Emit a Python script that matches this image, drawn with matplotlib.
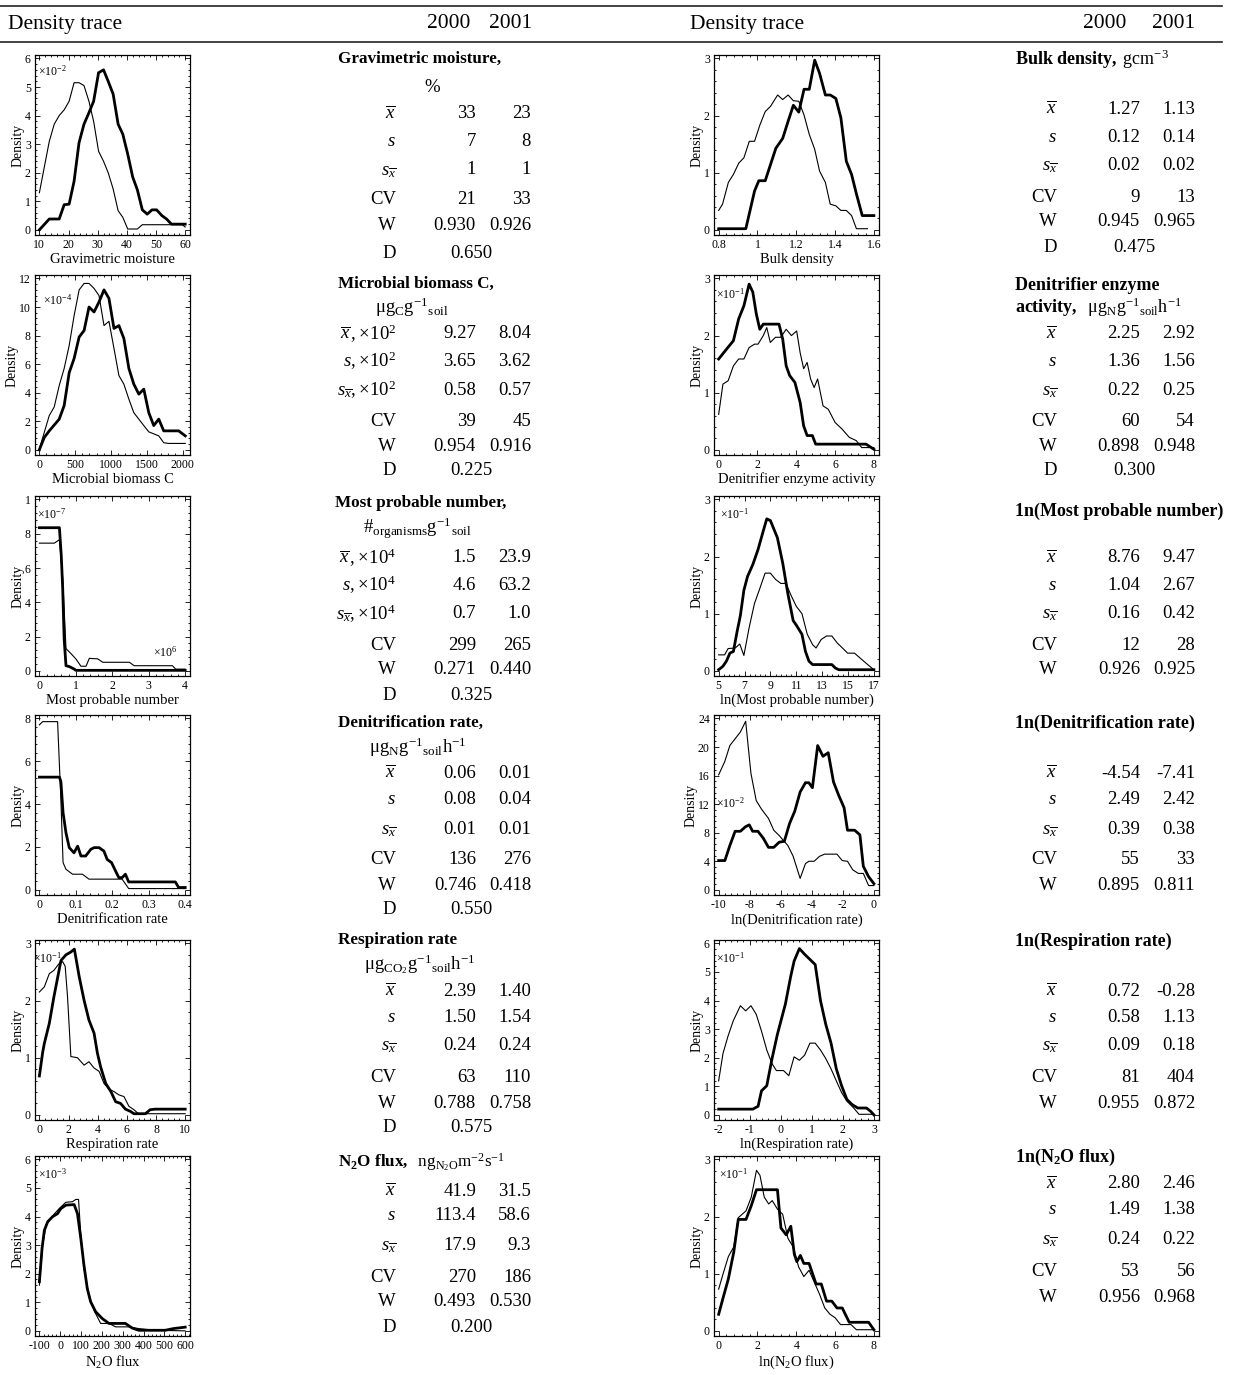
import matplotlib
matplotlib.use('Agg')
import matplotlib.pyplot as plt
from matplotlib.ticker import AutoMinorLocator, FormatStrFormatter

# ---- density traces (2000 = thick, 2001 = thin) ----
grav_x0 = [10, 13.4, 16.8, 18.5, 20.2, 21.9, 23.6, 25.3, 27, 28.6, 30.3, 32, 33.6, 35.3, 37, 38.6, 40.3, 42, 43.6, 45.3, 47, 48.6, 50.2, 52, 53.6, 55.3, 60]
grav_y0 = [0, 0.38, 0.38, 0.88, 0.9, 1.7, 3.05, 3.7, 4.1, 4.5, 5.5, 5.6, 5.2, 4.75, 3.7, 3.35, 2.65, 1.85, 1.4, 0.7, 0.55, 0.7, 0.7, 0.5, 0.38, 0.2, 0.2]
grav_x1 = [10, 11.7, 13.4, 15.1, 16.8, 18.5, 20.2, 21.9, 23.6, 25.3, 27, 28.6, 30.3, 32, 33.6, 35.3, 37, 38.6, 40.3, 43.6, 45.3, 59, 60]
grav_y1 = [1.3, 2.2, 3.1, 3.7, 4.0, 4.2, 4.5, 5.15, 5.15, 5.05, 4.5, 3.8, 2.75, 2.4, 2.0, 1.43, 0.67, 0.44, 0.03, 0.03, 0.18, 0.18, 0.1]

mbc_x0 = [0, 70, 139, 278, 347, 417, 486, 556, 625, 694, 764, 833, 903, 972, 1042, 1111, 1180, 1250, 1319, 1389, 1458, 1528, 1597, 1667, 1736, 1806, 1945, 2037]
mbc_y0 = [0, 0.87, 1.33, 2.15, 3.1, 5.4, 6.4, 7.9, 8.35, 10.0, 9.65, 10.35, 11.2, 10.6, 8.5, 8.7, 7.8, 5.7, 4.6, 3.9, 4.25, 2.6, 1.7, 2.15, 1.33, 1.33, 1.33, 0.98]
mbc_x1 = [0, 139, 208, 278, 347, 417, 486, 556, 625, 694, 764, 833, 903, 972, 1042, 1111, 1180, 1250, 1319, 1389, 1458, 1528, 1667, 1736, 1806, 2037]
mbc_y1 = [0.05, 2.4, 3.0, 4.5, 5.7, 7.3, 9.4, 11.2, 11.65, 11.65, 11.3, 10.8, 8.7, 9.0, 7.1, 5.2, 4.6, 3.55, 2.6, 2.15, 1.7, 1.26, 0.98, 0.5, 0.45, 0.45]

mpn_x0 = [0, 0.55, 0.6, 0.64, 0.68, 0.73, 0.82, 0.96, 1.0, 4.0]
mpn_y0 = [8.35, 8.35, 6.75, 4.8, 1.85, 0.3, 0.25, 0.1, 0.03, 0.03]
mpn_x1 = [0, 0.41, 0.55, 0.64, 0.73, 0.87, 1.0, 1.14, 1.28, 1.37, 1.6, 1.74, 2.47, 2.6, 3.65, 3.74, 4.0]
mpn_y1 = [7.45, 7.45, 7.65, 5.4, 1.3, 1.0, 0.7, 0.27, 0.27, 0.73, 0.7, 0.5, 0.5, 0.3, 0.3, 0.1, 0.1]

den_x0 = [0, 0.055, 0.059, 0.065, 0.073, 0.082, 0.095, 0.105, 0.114, 0.127, 0.141, 0.15, 0.164, 0.177, 0.186, 0.198, 0.209, 0.218, 0.227, 0.236, 0.245, 0.373, 0.382, 0.4]
den_y0 = [5.26, 5.26, 5.06, 3.6, 2.66, 1.97, 1.73, 2.04, 1.58, 1.58, 1.89, 1.97, 1.97, 1.81, 1.42, 1.27, 0.88, 0.57, 0.57, 0.73, 0.37, 0.37, 0.11, 0.11]
den_x1 = [0, 0.009, 0.05, 0.059, 0.065, 0.073, 0.091, 0.118, 0.136, 0.227, 0.245, 0.4]
den_y1 = [7.7, 7.85, 7.85, 4.2, 1.27, 0.96, 0.73, 0.73, 0.5, 0.5, 0.06, 0.06]

resp_x0 = [0, 0.23, 0.34, 0.68, 1.0, 1.48, 1.82, 2.16, 2.4, 2.73, 3.07, 3.4, 3.75, 3.98, 4.2, 4.55, 4.9, 5.23, 5.57, 5.9, 6.25, 6.48, 7.27, 7.6, 7.95, 10]
resp_y0 = [0.68, 1.1, 1.25, 1.6, 2.07, 2.7, 2.8, 2.85, 2.9, 2.42, 2.0, 1.66, 1.43, 1.08, 0.84, 0.55, 0.41, 0.23, 0.2, 0.1, 0.06, 0.02, 0.02, 0.09, 0.1, 0.1]
resp_x1 = [0, 0.34, 0.68, 1.0, 1.36, 1.6, 1.77, 1.93, 2.16, 2.61, 3.07, 3.4, 3.75, 4.1, 4.43, 4.77, 5.1, 5.45, 5.8, 6.14, 6.48, 6.8, 10]
resp_y1 = [2.15, 2.24, 2.47, 2.53, 2.65, 2.68, 2.6, 2.07, 1.02, 1.0, 0.87, 0.93, 0.82, 0.76, 0.55, 0.45, 0.41, 0.35, 0.32, 0.15, 0.09, 0.02, 0.02]

n2o_x0 = [-100, -87, -76, -60, -36, -13, 3, 27, 67, 83, 99, 114, 130, 146, 170, 202, 234, 266, 313, 345, 377, 504, 544, 600]
n2o_y0 = [1.72, 2.9, 3.52, 3.82, 4.0, 4.1, 4.28, 4.4, 4.42, 4.1, 3.23, 2.3, 1.48, 1.02, 0.67, 0.43, 0.26, 0.26, 0.26, 0.1, 0.02, 0.02, 0.08, 0.13]
n2o_x1 = [-100, -84, -68, -36, -5, 27, 59, 75, 88, 99, 114, 138, 162, 194, 234, 266, 329, 377, 456, 600]
n2o_y1 = [1.6, 3.0, 3.7, 4.03, 4.28, 4.5, 4.52, 4.6, 4.6, 3.35, 2.18, 1.25, 0.72, 0.26, 0.26, 0.14, 0.14, 0.08, 0.02, 0.0]

bulk_x0 = [0.8, 0.94, 0.985, 1.007, 1.04, 1.067, 1.095, 1.13, 1.158, 1.185, 1.213, 1.24, 1.267, 1.295, 1.32, 1.35, 1.375, 1.404, 1.43, 1.458, 1.485, 1.51, 1.54, 1.567, 1.6]
bulk_y0 = [0.02, 0.02, 0.68, 0.86, 0.86, 1.14, 1.43, 1.6, 1.9, 2.18, 2.06, 2.46, 2.46, 2.97, 2.74, 2.36, 2.36, 2.3, 1.96, 1.2, 0.97, 0.63, 0.25, 0.25, 0.25]
bulk_x1 = [0.8, 0.82, 0.85, 0.876, 0.904, 0.93, 0.958, 0.985, 1.013, 1.04, 1.067, 1.104, 1.13, 1.158, 1.185, 1.213, 1.24, 1.267, 1.295, 1.32, 1.35, 1.375, 1.404, 1.43, 1.458, 1.485, 1.51, 1.567]
bulk_y1 = [0.34, 0.45, 0.83, 0.97, 1.17, 1.26, 1.55, 1.55, 1.84, 2.07, 2.16, 2.36, 2.28, 2.36, 2.26, 2.25, 2.01, 1.67, 1.41, 1.03, 0.83, 0.45, 0.42, 0.34, 0.34, 0.25, 0.02, 0.02]

dea_x0 = [0, 0.4, 0.76, 1.03, 1.3, 1.57, 1.76, 1.94, 2.12, 2.3, 2.48, 3.11, 3.3, 3.48, 3.66, 3.93, 4.2, 4.38, 4.56, 4.83, 5.0, 7.6, 8.0]
dea_y0 = [1.59, 1.76, 1.91, 2.29, 2.52, 2.9, 2.76, 2.38, 2.11, 2.2, 2.2, 2.2, 1.94, 1.47, 1.3, 1.18, 0.83, 0.42, 0.25, 0.25, 0.1, 0.1, 0.01]
dea_x1 = [0, 0.22, 0.49, 0.76, 1.03, 1.3, 1.57, 1.85, 2.03, 2.3, 2.48, 2.66, 2.93, 3.2, 3.48, 3.75, 4.02, 4.2, 4.38, 4.56, 4.74, 4.92, 5.1, 5.38, 5.65, 6.0, 6.37, 6.73, 7.1, 7.37, 8.0]
dea_y1 = [0.62, 1.15, 1.21, 1.47, 1.59, 1.59, 1.79, 1.85, 1.85, 2.0, 2.14, 1.88, 1.97, 1.97, 2.11, 2.0, 2.08, 1.7, 1.42, 1.53, 1.24, 1.09, 1.24, 0.77, 0.71, 0.48, 0.36, 0.22, 0.16, 0.04, 0.04]

lmpn_x0 = [5, 5.33, 5.6, 5.87, 6.14, 6.41, 6.68, 6.95, 7.23, 7.64, 8.04, 8.45, 8.72, 9.0, 9.27, 9.54, 9.95, 10.35, 10.76, 11.03, 11.44, 11.71, 11.98, 12.26, 13.75, 14.02, 14.29, 17]
lmpn_y0 = [0.02, 0.08, 0.17, 0.31, 0.34, 0.67, 0.97, 1.41, 1.65, 1.86, 2.12, 2.45, 2.66, 2.63, 2.48, 2.33, 1.89, 1.35, 0.88, 0.79, 0.64, 0.34, 0.17, 0.11, 0.11, 0.05, 0.02, 0.02]
lmpn_x1 = [5, 5.46, 5.73, 6.28, 6.63, 6.95, 7.36, 7.77, 8.18, 8.59, 9.0, 9.4, 9.81, 10.2, 10.6, 11.0, 11.44, 11.85, 12.26, 12.53, 12.93, 13.34, 13.75, 14.16, 14.57, 14.97, 15.5, 16.06, 16.47, 17]
lmpn_y1 = [0.28, 0.28, 0.39, 0.4, 0.47, 0.27, 0.76, 1.18, 1.44, 1.71, 1.71, 1.6, 1.53, 1.53, 1.32, 1.13, 1.0, 0.64, 0.46, 0.4, 0.55, 0.61, 0.61, 0.49, 0.4, 0.31, 0.31, 0.2, 0.12, 0.02]

lden_x0 = [-10, -9.6, -9.28, -8.94, -8.6, -8.26, -8.03, -7.81, -7.47, -7.13, -6.79, -6.45, -6.1, -5.77, -5.43, -5.1, -4.75, -4.41, -4.19, -3.96, -3.62, -3.28, -2.94, -2.6, -2.26, -1.92, -1.7, -1.24, -0.9, -0.68, -0.34, 0]
lden_y0 = [4.1, 4.1, 6.2, 8.2, 8.2, 8.85, 9.1, 8.2, 8.2, 7.25, 5.95, 5.95, 6.67, 6.8, 9.3, 11.0, 13.7, 15.0, 15.0, 14.3, 20.2, 18.7, 19.2, 15.1, 13.2, 11.5, 8.35, 8.35, 7.7, 3.3, 1.84, 0.87]
lden_x1 = [-10, -9.6, -9.28, -8.6, -8.26, -7.92, -7.58, -7.24, -6.79, -6.45, -6.1, -5.54, -5.2, -4.75, -4.41, -4.19, -3.85, -3.5, -3.17, -2.38, -2.04, -1.7, -1.36, -1.0, -0.68, -0.34, 0]
lden_y1 = [16.1, 18.0, 20.2, 22.1, 23.6, 16.3, 12.5, 11.3, 10.0, 8.35, 7.6, 6.2, 4.7, 1.6, 3.67, 4.0, 4.0, 4.7, 5.0, 5.0, 4.1, 4.0, 2.8, 2.3, 2.3, 0.6, 0.6]

lresp_x0 = [-2, -0.9, -0.73, -0.62, -0.45, -0.28, -0.11, 0.15, 0.32, 0.43, 0.6, 0.77, 0.94, 1.11, 1.28, 1.45, 1.62, 1.79, 1.96, 2.13, 2.3, 2.48, 2.76, 2.9, 3]
lresp_y0 = [0.2, 0.2, 0.3, 0.84, 1.02, 1.97, 2.81, 3.88, 4.84, 5.38, 5.82, 5.62, 5.44, 5.26, 4.0, 3.17, 2.51, 1.61, 1.02, 0.54, 0.36, 0.24, 0.24, 0.12, 0]
lresp_x1 = [-2, -1.86, -1.7, -1.53, -1.3, -1.13, -0.96, -0.79, -0.62, -0.45, -0.28, -0.14, 0.09, 0.26, 0.43, 0.6, 0.77, 0.94, 1.11, 1.28, 1.45, 1.62, 1.79, 1.96, 2.13, 2.35, 2.52, 3]
lresp_y1 = [1.19, 2.15, 2.75, 3.29, 3.82, 3.64, 3.82, 3.52, 2.93, 2.27, 1.79, 1.55, 1.55, 1.37, 2.03, 1.91, 2.09, 2.51, 2.51, 2.27, 1.97, 1.61, 1.19, 0.78, 0.48, 0.24, 0.02, 0.02]

ln2o_x0 = [0, 0.23, 0.5, 0.78, 1.01, 1.41, 1.68, 1.95, 3.03, 3.21, 3.48, 3.72, 3.9, 4.03, 4.21, 4.39, 4.66, 5.02, 5.29, 5.56, 5.83, 6.1, 6.37, 6.73, 7.73, 8]
ln2o_y0 = [0.29, 0.58, 0.91, 1.38, 1.95, 1.95, 2.19, 2.47, 2.47, 1.8, 1.68, 1.83, 1.34, 1.21, 1.32, 1.18, 1.18, 0.82, 0.82, 0.52, 0.52, 0.4, 0.4, 0.15, 0.15, 0.02]
ln2o_x1 = [0, 0.23, 0.5, 0.78, 1.01, 1.41, 1.68, 1.95, 2.13, 2.35, 2.58, 2.76, 3.03, 3.3, 3.57, 3.84, 4.12, 4.39, 4.66, 4.93, 5.2, 5.47, 5.74, 6.0, 6.28, 6.82, 7.1, 8]
ln2o_y1 = [0.73, 1.0, 1.3, 1.47, 1.98, 2.1, 2.34, 2.81, 2.72, 2.34, 2.22, 2.28, 2.13, 2.04, 1.62, 1.47, 1.12, 0.95, 1.06, 0.85, 0.64, 0.4, 0.29, 0.23, 0.11, 0.11, 0.02, 0.02]

# ---- statistics table ----
grav_2000 = ['33', '7', '1', '21', '0.930']
grav_2001 = ['23', '8', '1', '33', '0.926']
mbc_2000 = ['9.27', '3.65', '0.58', '39', '0.954']
mbc_2001 = ['8.04', '3.62', '0.57', '45', '0.916']
mpn_2000 = ['1.5', '4.6', '0.7', '299', '0.271']
mpn_2001 = ['23.9', '63.2', '1.0', '265', '0.440']
den_2000 = ['0.06', '0.08', '0.01', '136', '0.746']
den_2001 = ['0.01', '0.04', '0.01', '276', '0.418']
resp_2000 = ['2.39', '1.50', '0.24', '63', '0.788']
resp_2001 = ['1.40', '1.54', '0.24', '110', '0.758']
n2o_2000 = ['41.9', '113.4', '17.9', '270', '0.493']
n2o_2001 = ['31.5', '58.6', '9.3', '186', '0.530']
bulk_2000 = ['1.27', '0.12', '0.02', '9', '0.945']
bulk_2001 = ['1.13', '0.14', '0.02', '13', '0.965']
dea_2000 = ['2.25', '1.36', '0.22', '60', '0.898']
dea_2001 = ['2.92', '1.56', '0.25', '54', '0.948']
lmpn_2000 = ['8.76', '1.04', '0.16', '12', '0.926']
lmpn_2001 = ['9.47', '2.67', '0.42', '28', '0.925']
lden_2000 = ['-4.54', '2.49', '0.39', '55', '0.895']
lden_2001 = ['-7.41', '2.42', '0.38', '33', '0.811']
lresp_2000 = ['0.72', '0.58', '0.09', '81', '0.955']
lresp_2001 = ['-0.28', '1.13', '0.18', '404', '0.872']
ln2o_2000 = ['2.80', '1.49', '0.24', '53', '0.956']
ln2o_2001 = ['2.46', '1.38', '0.22', '56', '0.968']
d_values = ['0.650', '0.225', '0.325', '0.550', '0.575', '0.200', '0.475', '0.300']

plt.rcParams['font.family'] = 'Liberation Serif'
plt.rcParams['mathtext.fontset'] = 'custom'
plt.rcParams['mathtext.rm'] = 'Liberation Serif'
plt.rcParams['mathtext.it'] = 'Liberation Serif:italic'
plt.rcParams['mathtext.bf'] = 'Liberation Serif:bold'
plt.rcParams['axes.unicode_minus'] = False

W, H = 1236, 1375
fig = plt.figure(figsize=(W / 100, H / 100), dpi=100)

FS = 13.5      # table numbers
FT = 12.3      # bold titles


def ftext(x, y, s, **kw):
    kw.setdefault('fontsize', FS)
    kw.setdefault('va', 'center')
    fig.text(x / W, 1 - y / H, s, **kw)


def hline(y):
    fig.add_artist(plt.Line2D([0, 1222 / W], [1 - y / H, 1 - y / H], color='#222222', lw=1.2))


hline(6)
hline(42)
for x0, a, b in [(8, 470, 532), (690, 1126, 1195)]:
    ftext(x0, 24, 'Density trace', fontsize=15.5)
    ftext(a, 24, '2000', ha='right', fontsize=15.5)
    ftext(b, 24, '2001', ha='right', fontsize=15.5)


def panel(x0, y0, w, xa, ya, xb, yb, xt, yt, xlabel, mult=None, mpos=(0.02, 0.91), ytl=None):
    ax = fig.add_axes([x0 / W, 1 - (y0 + 180) / H, w / W, 180 / H])
    ax.plot(xb, yb, color='black', lw=0.8)
    ax.plot(xa, ya, color='black', lw=2.0)
    r = xt[-1] - xt[0]
    xmax = max(xt[-1], max(xa))
    ax.set_xlim(xt[0] - 0.03 * r, xmax + 0.033 * r)
    ax.set_ylim(-0.03 * yt[-1], 1.02 * yt[-1])
    ax.set_xticks(xt)
    ax.set_yticks(yt)
    ax.xaxis.set_major_formatter(FormatStrFormatter('%g'))
    ax.yaxis.set_major_formatter(FormatStrFormatter('%g'))
    if ytl is not None:
        ax.set_yticklabels(ytl)
    ax.xaxis.set_minor_locator(AutoMinorLocator(5))
    ax.yaxis.set_minor_locator(AutoMinorLocator(5))
    ax.tick_params(which='both', direction='in', top=True, right=True, width=0.6)
    ax.tick_params(which='major', length=3.5, labelsize=8.5, pad=3)
    ax.tick_params(which='minor', length=1.5)
    for sp in ax.spines.values():
        sp.set_linewidth(0.9)
    ax.set_xlabel(xlabel, fontsize=10.5, labelpad=1)
    ax.set_ylabel('Density', fontsize=10, labelpad=0)
    if mult:
        ax.text(mpos[0], mpos[1], mult, transform=ax.transAxes, fontsize=8.5, va='center')
    return ax


LX, LW = 35, 155
RX, RW = 714, 165
tops = [55, 275, 496, 715, 940, 1156]

panel(LX, tops[0], LW, grav_x0, grav_y0, grav_x1, grav_y1, [10, 20, 30, 40, 50, 60], [0, 1, 2, 3, 4, 5, 6],
      'Gravimetric moisture', r'$\times10^{-2}$', (0.02, 0.91))
panel(LX, tops[1], LW, mbc_x0, mbc_y0, mbc_x1, mbc_y1, [0, 500, 1000, 1500, 2000], [0, 2, 4, 6, 8, 10, 12],
      'Microbial biomass C', r'$\times10^{-4}$', (0.05, 0.86))
ax3 = panel(LX, tops[2], LW, mpn_x0, mpn_y0, mpn_x1, mpn_y1, [0, 1, 2, 3, 4], [0, 2, 4, 6, 8, 10],
            'Most probable number', r'$\times10^{-7}$', (0.01, 0.9), ytl=['0', '2', '4', '6', '8', '1'])
ax3.text(0.76, 0.13, r'$\times10^{6}$', transform=ax3.transAxes, fontsize=8.5, va='center')
panel(LX, tops[3], LW, den_x0, den_y0, den_x1, den_y1, [0, 0.1, 0.2, 0.3, 0.4], [0, 2, 4, 6, 8],
      'Denitrification rate')
panel(LX, tops[4], LW, resp_x0, resp_y0, resp_x1, resp_y1, [0, 2, 4, 6, 8, 10], [0, 1, 2, 3],
      'Respiration rate', r'$\times10^{-1}$', (-0.01, 0.9))
panel(LX, tops[5], LW, n2o_x0, n2o_y0, n2o_x1, n2o_y1, [-100, 0, 100, 200, 300, 400, 500, 600], [0, 1, 2, 3, 4, 5, 6],
      r'N$_2$O flux', r'$\times10^{-3}$', (0.02, 0.9))

panel(RX, tops[0], RW, bulk_x0, bulk_y0, bulk_x1, bulk_y1, [0.8, 1, 1.2, 1.4, 1.6], [0, 1, 2, 3],
      'Bulk density')
panel(RX, tops[1], RW, dea_x0, dea_y0, dea_x1, dea_y1, [0, 2, 4, 6, 8], [0, 1, 2, 3],
      'Denitrifier enzyme activity', r'$\times10^{-1}$', (0.01, 0.89))
panel(RX, tops[2], RW, lmpn_x0, lmpn_y0, lmpn_x1, lmpn_y1, [5, 7, 9, 11, 13, 15, 17], [0, 1, 2, 3],
      'ln(Most probable number)', r'$\times10^{-1}$', (0.035, 0.9))
panel(RX, tops[3], RW, lden_x0, lden_y0, lden_x1, lden_y1, [-10, -8, -6, -4, -2, 0], [0, 4, 8, 12, 16, 20, 24],
      'ln(Denitrification rate)', r'$\times10^{-2}$', (0.015, 0.51))
panel(RX, tops[4], RW, lresp_x0, lresp_y0, lresp_x1, lresp_y1, [-2, -1, 0, 1, 2, 3], [0, 1, 2, 3, 4, 5, 6],
      'ln(Respiration rate)', r'$\times10^{-1}$', (0.01, 0.9))
panel(RX, tops[5], RW, ln2o_x0, ln2o_y0, ln2o_x1, ln2o_y1, [0, 2, 4, 6, 8], [0, 1, 2, 3],
      r'ln(N$_2$O flux)', r'$\times10^{-1}$', (0.03, 0.9))

# ---- statistics ----
lab_plain = [r'$\overline{x}$', r'$s$', r'$s_{\overline{x}}$', 'CV', 'W']


def lab_mult(p):
    return [r'$\overline{x}\,\mathrm{,\!\times\!10^{%d}}$' % p, r'$s\mathrm{,\!\times\!10^{%d}}$' % p,
            r'$s_{\overline{x}}\mathrm{,\!\times\!10^{%d}}$' % p, 'CV', 'W']


def stats(side, rows, labels, v0, v1, d=None):
    if side == 'L':
        xl, xa, xb, xd = 396, 476, 531, 471
    else:
        xl, xa, xb, xd = 1057, 1140, 1195, 1134
    for y, lab, a, b in zip(rows, labels, v0, v1):
        ftext(xl, y, lab, ha='right')
        ftext(xa, y, a, ha='right')
        ftext(xb, y, b, ha='right')
    if d is not None:
        ftext(xl, rows[5], 'D', ha='right')
        ftext(xd, rows[5], d, ha='center')


TL, TR = 338, 1015
FU = 13.5
ftext(TL, 59, 'Gravimetric moisture,', fontweight='bold', fontsize=FT)
ftext(432, 88, '%', ha='center')
stats('L', [114, 142, 170, 199, 226, 253], lab_plain, grav_2000, grav_2001, d_values[0])

ftext(TL, 284, 'Microbial biomass C,', fontweight='bold', fontsize=FT)
ftext(412, 307, r'$\mathrm{\mu g_{C}g^{-1}{}_{soil}}$', ha='center', fontsize=FU)
stats('L', [334, 361, 390, 422, 446, 471], lab_mult(2), mbc_2000, mbc_2001, d_values[1])

ftext(TL - 3, 503, 'Most probable number,', fontweight='bold', fontsize=FT)
ftext(417, 528, r'$\mathrm{\#_{organisms}g^{-1}{}_{soil}}$', ha='center', fontsize=FU)
stats('L', [558, 585, 614, 645, 670, 695], lab_mult(4), mpn_2000, mpn_2001, d_values[2])

ftext(TL, 723, 'Denitrification rate,', fontweight='bold', fontsize=FT)
ftext(418, 747, r'$\mathrm{\mu g_{N}g^{-1}{}_{soil}h^{-1}}$', ha='center', fontsize=FU)
stats('L', [773, 800, 829, 860, 885, 910], lab_plain, den_2000, den_2001, d_values[3])

ftext(TL, 940, 'Respiration rate', fontweight='bold', fontsize=FT)
ftext(420, 964, r'$\mathrm{\mu g_{CO_2}g^{-1}{}_{soil}h^{-1}}$', ha='center', fontsize=FU)
stats('L', [991, 1017, 1046, 1078, 1103, 1128], lab_plain, resp_2000, resp_2001, d_values[4])

ftext(TL, 1162, r'$\mathbf{N_2O\ flux,}\ \ \mathrm{ng_{N_2O}m^{-2}s^{-1}}$', fontsize=FT)
stats('L', [1191, 1216, 1246, 1278, 1302, 1327], lab_plain, n2o_2000, n2o_2001, d_values[5])

ftext(TR, 59, r'$\mathbf{Bulk\ density,}\ \mathrm{gcm^{-3}}$', fontsize=13)
stats('R', [109, 137, 165, 197, 222, 247], lab_plain, bulk_2000, bulk_2001, d_values[6])

ftext(TR, 285, 'Denitrifier enzyme', fontweight='bold', fontsize=13)
ftext(TR, 307, r'$\mathbf{activity,}\ \ \mathrm{\mu g_{N}g^{-1}{}_{soil}h^{-1}}$', fontsize=13)
stats('R', [334, 361, 390, 422, 446, 471], lab_plain, dea_2000, dea_2001, d_values[7])

ftext(TR, 511, '1n(Most probable number)', fontweight='bold', fontsize=13)
stats('R', [558, 585, 614, 645, 670], lab_plain, lmpn_2000, lmpn_2001)

ftext(TR, 723, '1n(Denitrification rate)', fontweight='bold', fontsize=13)
stats('R', [773, 800, 829, 860, 885], lab_plain, lden_2000, lden_2001)

ftext(TR, 941, '1n(Respiration rate)', fontweight='bold', fontsize=13)
stats('R', [991, 1017, 1046, 1078, 1103], lab_plain, lresp_2000, lresp_2001)

ftext(TR, 1157, r'$\mathbf{1n(N_2O\ flux)}$', fontsize=13)
stats('R', [1184, 1210, 1240, 1272, 1297], lab_plain, ln2o_2000, ln2o_2001)

fig.savefig('out.png', dpi=100)
